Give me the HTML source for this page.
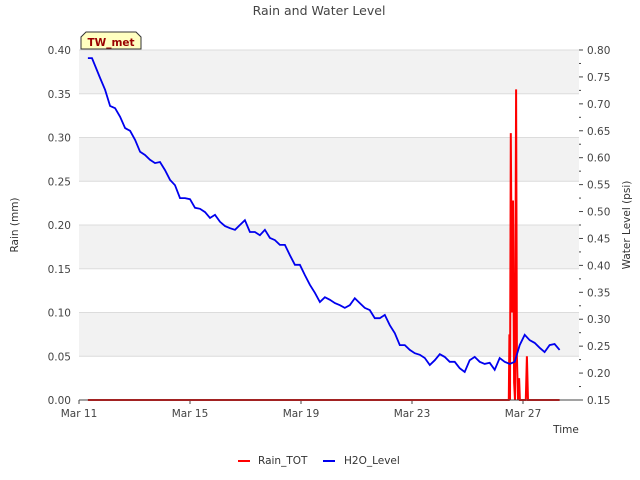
<!DOCTYPE html>
<html><head><meta charset="utf-8"><style>
body{margin:0;background:#fff;font-family:"DejaVu Sans",sans-serif}
svg{display:block}
text{font-family:"DejaVu Sans","Liberation Sans",sans-serif}
</style></head><body>
<svg id="c" width="640" height="480"></svg>
<script>
const levelDays=[0.32,0.47,0.76,0.94,1.12,1.30,1.48,1.66,1.84,2.02,2.20,2.38,2.56,2.74,2.92,3.10,3.28,3.46,3.64,3.82,4.00,4.18,4.36,4.54,4.72,4.90,5.08,5.26,5.44,5.62,5.80,5.98,6.16,6.34,6.52,6.70,6.88,7.06,7.24,7.42,7.60,7.78,7.96,8.14,8.32,8.50,8.68,8.86,9.04,9.22,9.40,9.58,9.76,9.94,10.12,10.30,10.48,10.66,10.84,11.02,11.20,11.38,11.56,11.74,11.92,12.10,12.28,12.46,12.64,12.82,13.00,13.18,13.36,13.54,13.72,13.90,14.08,14.26,14.44,14.62,14.80,14.98,15.16,15.34,15.52,15.70,15.88,16.06,16.24,16.42,16.60,16.78,16.96,17.14,17.32];
const levelValues=[0.785,0.785,0.748,0.726,0.696,0.692,0.676,0.655,0.650,0.633,0.611,0.605,0.596,0.590,0.592,0.577,0.559,0.549,0.525,0.525,0.523,0.507,0.505,0.499,0.488,0.494,0.481,0.473,0.469,0.466,0.475,0.484,0.462,0.462,0.456,0.466,0.451,0.447,0.438,0.438,0.419,0.401,0.401,0.382,0.364,0.349,0.332,0.341,0.336,0.330,0.326,0.321,0.326,0.339,0.330,0.321,0.317,0.302,0.302,0.308,0.289,0.274,0.252,0.252,0.243,0.237,0.234,0.228,0.215,0.224,0.235,0.230,0.221,0.221,0.209,0.202,0.224,0.230,0.221,0.217,0.219,0.206,0.228,0.221,0.217,0.221,0.252,0.271,0.261,0.256,0.247,0.239,0.252,0.254,0.243];
const rainDays=[0.32,15.49,15.51,15.53,15.56,15.60,15.64,15.68,15.71,15.75,15.78,15.82,15.86,15.89,15.93,16.10,16.14,16.18,17.32];
const rainValues=[0,0,0.075,0,0.305,0.10,0.228,0.02,0,0.355,0.05,0,0.025,0,0,0,0.05,0,0];
const xTickDays=[0,4,8,12,16];
const xTickLabels=["Mar 11","Mar 15","Mar 19","Mar 23","Mar 27"];
const leftTicks=[0,0.05,0.10,0.15,0.20,0.25,0.30,0.35,0.40];
const rightTicks=[0.15,0.20,0.25,0.30,0.35,0.40,0.45,0.50,0.55,0.60,0.65,0.70,0.75,0.80];

const L=79,R=579,T=50,B=400,NS="http://www.w3.org/2000/svg";
const xs=d=>L+d*27.75;
const yl=v=>B-(v/0.40)*(B-T);
const yr=v=>B-((v-0.15)/0.65)*(B-T);
const svg=document.getElementById('c');
function mk(tag,attrs,txt){const e=document.createElementNS(NS,tag);for(const k in attrs)e.setAttribute(k,attrs[k]);if(txt!==undefined)e.textContent=txt;svg.appendChild(e);return e;}

for(let i=0;i<8;i++){
 if(i%2===0){const b=mk('rect',{x:L,y:yl(leftTicks[8-i]),width:R-L,height:yl(0)-yl(0.05),fill:'#f2f2f2'});
 
 }
}
leftTicks.forEach((v,i)=>{
 const g=mk('line',{x1:L,x2:R,y1:yl(v),y2:yl(v),stroke:'#dcdcdc'});
 
 
 const t=mk('text',{x:L-8,y:yl(v)+4,'text-anchor':'end','font-size':10.5,fill:'#444'},v.toFixed(2));
 
 
});
rightTicks.forEach(v=>{
 const t=mk('text',{x:R+8,y:yr(v)+4,'font-size':10.5,fill:'#444'},v.toFixed(2));
 
 
 mk('line',{x1:R,x2:R+4,y1:yr(v),y2:yr(v),stroke:'#444'});
 if(v<0.8) mk('line',{x1:R,x2:R+2,y1:yr(v+0.025),y2:yr(v+0.025),stroke:'#444'});
});
xTickDays.forEach((d,i)=>{
 mk('line',{x1:xs(d),x2:xs(d),y1:B,y2:B+4,stroke:'#444'});
 const t=mk('text',{x:xs(d),y:B+17,'text-anchor':'middle','font-size':10.5,fill:'#444'},xTickLabels[i]);
 
 
});

let p=rainDays.map((d,i)=>(i?'L':'M')+xs(d).toFixed(1)+' '+yl(rainValues[i]).toFixed(1)).join(' ');
const rl=mk('path',{d:p,fill:'none',stroke:'#ff0000','stroke-width':2});


p=levelDays.map((d,i)=>(i?'L':'M')+xs(d).toFixed(1)+' '+yr(levelValues[i]).toFixed(1)).join(' ');
const wl=mk('path',{d:p,fill:'none',stroke:'#0000ee','stroke-width':1.8});


const ax=mk('line',{x1:L,x2:R,y1:B,y2:B,stroke:'#444'});



const ti=mk('text',{x:319,y:15,'text-anchor':'middle','font-size':12.5,fill:'#444'},'Rain and Water Level');


const ya=mk('text',{x:18,y:225,'text-anchor':'middle','font-size':10.5,fill:'#333',transform:'rotate(-90 18 225)'},'Rain (mm)');


const yb=mk('text',{x:630,y:225,'text-anchor':'middle','font-size':10.5,fill:'#333',transform:'rotate(-90 630 225)'},'Water Level (psi)');


const xt=mk('text',{x:566,y:433,'text-anchor':'middle','font-size':10.5,fill:'#333'},'Time');



const tag=mk('path',{d:'M81 49 L81 37 L86 32 L136 32 L141 37 L141 49 Z',fill:'#ffffc0',stroke:'#333'});


const tt=mk('text',{x:111,y:46,'text-anchor':'middle','font-size':10.5,'font-weight':'bold',fill:'#990000'},'TW_met');



const le1=mk('line',{x1:238,x2:250,y1:461,y2:461,stroke:'#ff0000','stroke-width':2});


const lt1=mk('text',{x:258,y:464,'font-size':10.5,fill:'#333'},'Rain_TOT');


const le2=mk('line',{x1:323,x2:335,y1:461,y2:461,stroke:'#0000ee','stroke-width':2});


const lt2=mk('text',{x:344,y:464,'font-size':10.5,fill:'#333'},'H2O_Level');


</script>
</body></html>
